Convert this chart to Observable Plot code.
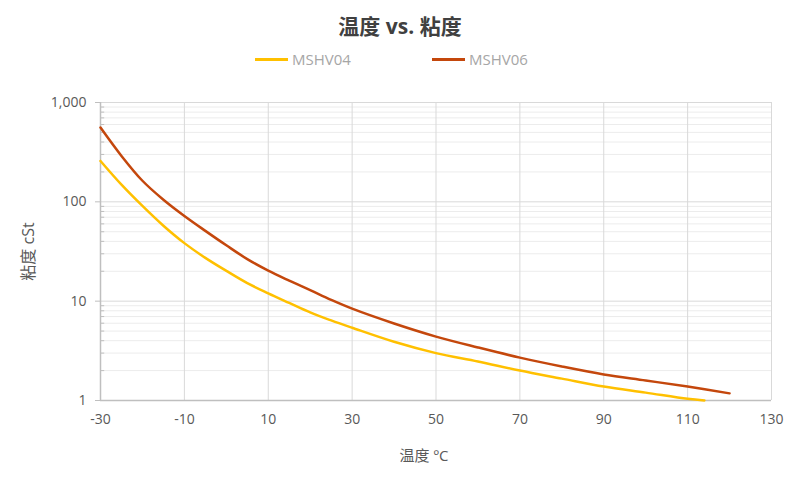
<!DOCTYPE html>
<html>
<head>
<meta charset="utf-8">
<script src="https://cdn.jsdelivr.net/npm/d3@7"></script>
<script src="https://cdn.jsdelivr.net/npm/@observablehq/plot@0.6"></script>
<style>
  body { margin: 0; background: #fff; font-family: "Open Sans", "Noto Sans CJK SC", sans-serif; }
  #wrap { width: 800px; height: 480px; position: relative; }
  #title { position: absolute; top: 10px; left: 0; width: 800px; text-align: center; font-size: 21px; font-weight: bold; color: #404040; font-family: "Open Sans", "Noto Sans CJK SC", sans-serif; }
  #legend { position: absolute; top: 49px; left: 0; width: 800px; height: 22px; }
  .item { position: absolute; top: 0; font-size: 15px; color: #a6a6a6; display: flex; align-items: center; }
  .sw { width: 33px; height: 3px; margin-right: 4px; }
  #chart { position: absolute; top: 75px; left: 0; }
</style>
</head>
<body>
<div id="wrap">
  <div id="title">温度 vs. 粘度</div>
  <div id="legend"></div>
  <div id="chart"></div>
</div>
<script>
const seriesNames = ["MSHV04", "MSHV06"];
const seriesColors = ["#FFC000", "#C4470C"];

const temps04 = [-30, -25, -20, -15, -10, -5, 0, 5, 10, 15, 20, 25, 30, 40, 50, 60, 70, 80, 90, 100, 110, 114];
const visc04  = [258, 149, 91, 57.5, 38.4, 27.3, 20.2, 15.2, 12.0, 9.6, 7.7, 6.4, 5.4, 3.9, 3.0, 2.47, 2.0, 1.66, 1.38, 1.2, 1.04, 1.0];

const temps06 = [-30, -25, -20, -15, -10, -5, 0, 5, 10, 15, 20, 25, 30, 40, 50, 60, 70, 80, 90, 100, 110, 120];
const visc06  = [560, 290, 163, 105, 72, 51, 36.5, 26.5, 20.3, 16.1, 12.9, 10.3, 8.4, 5.96, 4.4, 3.42, 2.7, 2.2, 1.83, 1.59, 1.38, 1.18];

const xTicks = [-30, -10, 10, 30, 50, 70, 90, 110, 130];
const yMajor = [1, 10, 100, 1000];
const yMinor = [2,3,4,5,6,7,8,9,20,30,40,50,60,70,80,90,200,300,400,500,600,700,800,900];

const xLabel = "温度 ºC";
const yLabel = "粘度 cSt";

const data04 = temps04.map((t, i) => ({t, v: visc04[i]}));
const data06 = temps06.map((t, i) => ({t, v: visc06[i]}));

// legend
const legend = document.getElementById("legend");
const legendX = [255, 432];
seriesNames.forEach((n, i) => {
  const d = document.createElement("div");
  d.className = "item";
  d.style.left = legendX[i] + "px";
  d.innerHTML = `<span class="sw" style="background:${seriesColors[i]}"></span><span>${n}</span>`;
  legend.appendChild(d);
});

const fontFam = '"Open Sans", "Noto Sans CJK SC", sans-serif';

const chart = Plot.plot({
  width: 800,
  height: 405,
  marginTop: 27,
  marginBottom: 80,
  marginLeft: 100,
  marginRight: 29,
  style: { fontFamily: fontFam, fontSize: "14px", color: "#595959", background: "transparent" },
  x: { type: "linear", domain: [-30, 130] },
  y: { type: "log", domain: [1, 1000] },
  marks: [
    Plot.ruleY(yMinor, { stroke: "#ececec", strokeWidth: 1 }),
    Plot.ruleY(yMajor, { stroke: "#d9d9d9", strokeWidth: 1 }),
    Plot.ruleX(xTicks, { stroke: "#d9d9d9", strokeWidth: 1 }),
    Plot.ruleY(yMinor, { x1: -30, x2: -29, stroke: "#bfbfbf" }),
    Plot.axisX({ ticks: xTicks, tickFormat: d => String(d), tickSize: 0, tickPadding: 14, label: null, fontSize: 14, color: "#595959" }),
    Plot.axisY({ ticks: yMajor, tickFormat: d3.format(","), tickSize: 5, stroke: "#bfbfbf", tickPadding: 9, label: null, fontSize: 14, color: "#595959" }),
    Plot.text([xLabel], { frameAnchor: "bottom", lineAnchor: "middle", textAnchor: "middle", dy: 56, dx: -12, fontSize: 15, fill: "#595959" }),
    Plot.text([yLabel], { frameAnchor: "left", rotate: -90, textAnchor: "middle", lineAnchor: "middle", dx: -71.5, fontSize: 16, fill: "#595959" }),
    Plot.ruleX([-30], { stroke: "#bfbfbf", strokeWidth: 1.5 }),
    Plot.ruleY([1], { stroke: "#bfbfbf", strokeWidth: 1.5 }),
    Plot.line(data04, { x: "t", y: "v", stroke: seriesColors[0], strokeWidth: 2.5, curve: "catmull-rom" }),
    Plot.line(data06, { x: "t", y: "v", stroke: seriesColors[1], strokeWidth: 2.5, curve: "catmull-rom" })
  ]
});
document.getElementById("chart").appendChild(chart);
</script>
</body>
</html>
